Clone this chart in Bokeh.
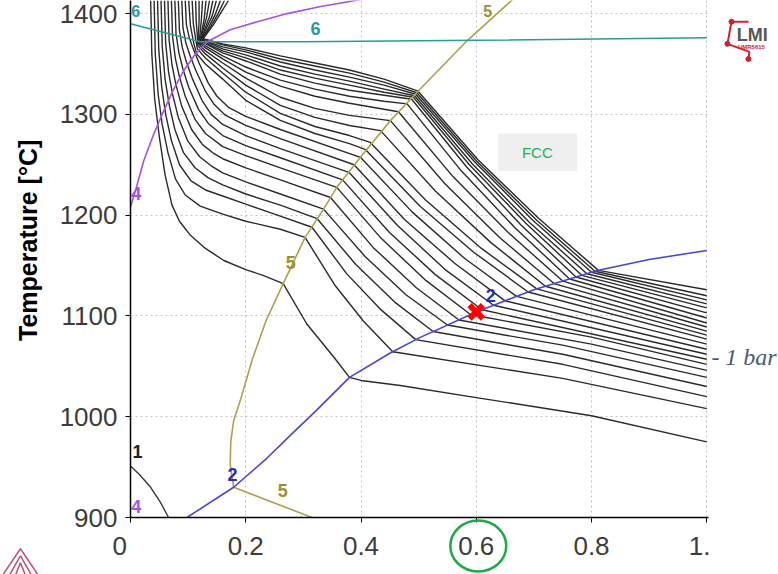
import math
from bokeh.plotting import figure
from bokeh.models import FixedTicker, GridBox, Column
from bokeh.embed import file_html
from bokeh.resources import INLINE
from bokeh.core.properties import value

# ---------------- data (x = fraction, T = temperature in degC) ----------------
x_ticks = [0, 0.2, 0.4, 0.6, 0.8, 1.0]
x_tick_labels = ["0\u00a0\u00a0\u00a0", "0.2", "0.4", "0.6", "0.8", "1.\u00a0\u00a0"]
y_ticks = [900, 1000, 1100, 1200, 1300, 1400]
y_title = "Temperature [°C]"

c00_x = [0.035, 0.037, 0.042, 0.05, 0.06, 0.072, 0.085, 0.104, 0.13, 0.162, 0.2, 0.231, 0.265, 0.306, 0.353, 0.38, 0.4, 0.468, 0.6, 0.8, 1.0]
c00_t = [1413, 1360, 1315, 1278, 1240, 1210, 1194, 1180, 1167, 1155, 1146, 1140, 1132, 1092, 1059, 1039, 1036, 1031, 1019, 1001, 975]
c01_x = [0.041, 0.043, 0.048, 0.055, 0.065, 0.078, 0.095, 0.121, 0.16, 0.2, 0.26, 0.303, 0.354, 0.404, 0.455, 0.75, 1.0]
c01_t = [1413, 1360, 1320, 1290, 1262, 1236, 1220, 1209, 1201, 1194, 1186, 1178, 1131, 1095, 1064.5, 1038, 1008]
c02_x = [0.047, 0.049, 0.054, 0.061, 0.071, 0.085, 0.105, 0.13, 0.16, 0.2, 0.26, 0.315, 0.375, 0.435, 0.495, 0.75, 1.0]
c02_t = [1413, 1365, 1328, 1300, 1274, 1250, 1234, 1225, 1219, 1211, 1199, 1188, 1142, 1106, 1076.5, 1052, 1020]
c03_x = [0.053, 0.055, 0.06, 0.067, 0.077, 0.092, 0.112, 0.135, 0.16, 0.2, 0.26, 0.324, 0.391, 0.458, 0.525, 0.75, 1.0]
c03_t = [1413, 1368, 1335, 1310, 1285, 1262, 1247, 1237, 1230, 1221, 1210, 1196.5, 1151, 1114, 1084.5, 1062, 1030]
c04_x = [0.059, 0.061, 0.066, 0.073, 0.083, 0.099, 0.12, 0.14, 0.16, 0.2, 0.26, 0.335, 0.407, 0.478, 0.55, 0.75, 1.0]
c04_t = [1413, 1371, 1342, 1320, 1297, 1274, 1258, 1249, 1242, 1233, 1221, 1206, 1159, 1121, 1091, 1071, 1039]
c05_x = [0.065, 0.067, 0.072, 0.079, 0.089, 0.106, 0.125, 0.145, 0.16, 0.2, 0.26, 0.347, 0.421, 0.496, 0.57, 0.8, 1.0]
c05_t = [1413, 1374, 1349, 1329, 1308, 1285, 1270, 1261, 1256, 1247, 1235, 1217.5, 1168, 1128, 1096, 1072, 1046]
c06_x = [0.071, 0.073, 0.078, 0.085, 0.095, 0.112, 0.13, 0.16, 0.2, 0.26, 0.358, 0.435, 0.513, 0.59, 0.8, 1.0]
c06_t = [1413, 1377, 1355, 1337, 1318, 1295, 1281, 1268, 1259, 1247, 1227.6, 1177, 1135, 1101.4, 1079, 1052]
c07_x = [0.077, 0.079, 0.084, 0.091, 0.101, 0.118, 0.135, 0.16, 0.2, 0.26, 0.368, 0.449, 0.529, 0.61, 1.0]
c07_t = [1413, 1380, 1361, 1345, 1327, 1305, 1291, 1279, 1269, 1257, 1235, 1183, 1141, 1106.2, 1057]
c08_x = [0.083, 0.085, 0.09, 0.097, 0.107, 0.124, 0.14, 0.16, 0.2, 0.26, 0.379, 0.463, 0.546, 0.63, 1.0]
c08_t = [1413, 1383, 1366, 1352, 1336, 1314, 1300, 1290, 1279, 1266, 1242.5, 1190, 1146, 1110.6, 1062]
c09_x = [0.089, 0.091, 0.096, 0.103, 0.113, 0.13, 0.145, 0.165, 0.2, 0.26, 0.388, 0.475, 0.563, 0.65, 1.0]
c09_t = [1413, 1386, 1371, 1359, 1344, 1323, 1310, 1299, 1289, 1276, 1250, 1196, 1152, 1115, 1067]
c10_x = [0.095, 0.097, 0.102, 0.109, 0.119, 0.135, 0.15, 0.17, 0.2, 0.26, 0.399, 0.489, 0.58, 0.67, 1.0]
c10_t = [1413, 1389, 1376, 1365, 1351, 1331, 1318, 1307, 1298, 1285, 1257.4, 1203, 1157, 1119.4, 1072]
c11_x = [0.101, 0.104, 0.11, 0.115, 0.13, 0.16, 0.2, 0.26, 0.32, 0.38, 0.408, 0.502, 0.596, 0.69, 1.0]
c11_t = [1413, 1388, 1370, 1360, 1350, 1335, 1314, 1294, 1281, 1271, 1265, 1209, 1163, 1123.8, 1077]
c12_x = [0.107, 0.109, 0.113, 0.116, 0.13, 0.16, 0.2, 0.26, 0.32, 0.38, 0.416, 0.512, 0.609, 0.705, 1.0]
c12_t = [1413, 1390, 1375, 1365, 1356, 1341, 1322, 1301, 1288, 1279, 1272.2, 1215, 1167, 1126.9, 1081]
c13_x = [0.113, 0.114, 0.116, 0.117, 0.13, 0.16, 0.2, 0.26, 0.32, 0.38, 0.434, 0.529, 0.625, 0.72, 1.0]
c13_t = [1413, 1392, 1378, 1368, 1360, 1346, 1329, 1309, 1297, 1289, 1283.9, 1224, 1173, 1129.5, 1085]
c14_x = [0.119, 0.119, 0.118, 0.118, 0.13, 0.16, 0.2, 0.26, 0.32, 0.38, 0.451, 0.546, 0.64, 0.735, 1.0]
c14_t = [1413, 1393, 1380, 1370, 1363, 1351, 1336, 1317, 1306, 1299, 1293.8, 1231, 1178, 1132.1, 1089]
c15_x = [0.125, 0.123, 0.121, 0.119, 0.13, 0.16, 0.2, 0.26, 0.32, 0.38, 0.465, 0.56, 0.655, 0.75, 1.0]
c15_t = [1413, 1394, 1382, 1371, 1366, 1355, 1342, 1328, 1318, 1311, 1302.6, 1238, 1183, 1134.6, 1093]
c16_x = [0.131, 0.128, 0.124, 0.12, 0.13, 0.16, 0.2, 0.26, 0.32, 0.38, 0.44, 0.48, 0.574, 0.668, 0.762, 1.0]
c16_t = [1413, 1395, 1383, 1372, 1368, 1358, 1347, 1334, 1325, 1318, 1313, 1310.4, 1244, 1187, 1136.7, 1098]
c17_x = [0.137, 0.132, 0.126, 0.121, 0.16, 0.2, 0.26, 0.32, 0.38, 0.44, 0.488, 0.583, 0.678, 0.773, 1.0]
c17_t = [1413, 1396, 1384, 1373, 1361, 1353, 1340, 1331, 1324, 1319, 1315, 1248, 1190, 1138.6, 1103]
c18_x = [0.143, 0.137, 0.129, 0.122, 0.16, 0.2, 0.26, 0.32, 0.38, 0.44, 0.491, 0.588, 0.686, 0.783, 1.0]
c18_t = [1413, 1397, 1385, 1373, 1363, 1356, 1344, 1336, 1329, 1322, 1317, 1250, 1192, 1140.3, 1108]
c19_x = [0.149, 0.142, 0.132, 0.123, 0.16, 0.2, 0.26, 0.32, 0.38, 0.44, 0.493, 0.593, 0.692, 0.792, 1.0]
c19_t = [1413, 1398, 1386, 1374, 1365, 1359, 1348, 1340, 1333, 1325, 1318.5, 1251, 1193, 1141.9, 1112]
c20_x = [0.156, 0.147, 0.136, 0.124, 0.16, 0.2, 0.26, 0.32, 0.38, 0.44, 0.495, 0.597, 0.698, 0.8, 1.0]
c20_t = [1413, 1399, 1387, 1374, 1367, 1362, 1352, 1344, 1337, 1329, 1320, 1253, 1195, 1143.3, 1116]
c21_x = [0.163, 0.152, 0.14, 0.125, 0.16, 0.2, 0.26, 0.32, 0.38, 0.44, 0.497, 0.6, 0.703, 0.806, 1.0]
c21_t = [1413, 1400, 1388, 1375, 1369, 1364, 1355, 1348, 1341, 1332, 1321.5, 1254, 1196, 1144.3, 1120]
c22_x = [0.17, 0.157, 0.144, 0.126, 0.16, 0.2, 0.26, 0.32, 0.38, 0.44, 0.499, 0.603, 0.708, 0.812, 1.0]
c22_t = [1413, 1401, 1389, 1375, 1370, 1366, 1358, 1351, 1344, 1335, 1323, 1255, 1197, 1145.2, 1126]

line1_x = [0.0, 0.015, 0.035, 0.052, 0.066, 0.075]
line1_t = [951, 943, 930, 915, 900, 890]

line2_x = [0.06, 0.098, 0.179, 0.237, 0.28, 0.324, 0.38, 0.45, 0.5, 0.6, 0.7, 0.81, 0.9, 1.0]
line2_t = [886, 900, 930, 959, 983, 1007, 1039, 1063, 1078, 1104, 1126, 1145, 1156, 1165]

line4_x = [0.0, 0.009, 0.023, 0.04, 0.058, 0.075, 0.092, 0.11, 0.133, 0.173, 0.22, 0.272, 0.33, 0.4]
line4_t = [1208, 1225, 1254, 1280, 1304, 1325, 1343, 1358, 1372, 1384, 1392, 1400, 1407, 1414]

line5_x = [0.179, 0.173, 0.174, 0.179, 0.191, 0.212, 0.235, 0.265, 0.303, 0.335, 0.358, 0.399, 0.451, 0.499, 0.584, 0.636, 0.665]
line5_t = [930, 953, 975, 996, 1017, 1058, 1095, 1132, 1178, 1206, 1227.6, 1257.4, 1293.8, 1323, 1373, 1400, 1415]
line5b_x = [0.179, 0.315, 0.33]
line5b_t = [930, 900, 897]

line6_x = [0.0, 0.06, 0.121, 0.3, 0.6, 1.0]
line6_t = [1390, 1381, 1372, 1372, 1373.5, 1376]

marker_x = [0.6]
marker_t = [1104]

# frame geometry of the main chart
X0, X1, T0, T1 = 0.0, 1.003, 900, 1413
W, H, BL, BR, BB = 778, 574, 130, 70, 57

# ---------------- main figure ----------------
p = figure(width=W, height=H, x_range=(X0, X1), y_range=(T0, T1),
           output_backend="svg", toolbar_location=None,
           min_border_left=BL, min_border_right=BR, min_border_top=0, min_border_bottom=BB)
p.outline_line_color = None
p.background_fill_color = "white"
p.border_fill_color = "white"

for ax in (p.xaxis[0], p.yaxis[0]):
    ax.axis_line_color = "black"
    ax.axis_line_width = 1.5
    ax.major_tick_line_color = "black"
    ax.major_tick_out = 5
    ax.major_tick_in = 0
    ax.minor_tick_line_color = None
    ax.major_label_text_font = "Liberation Sans"
    ax.major_label_text_font_size = "26px"
    ax.major_label_text_color = "#3c3c3c"
    ax.major_label_standoff = 8

p.xaxis.ticker = FixedTicker(ticks=x_ticks)
p.yaxis.ticker = FixedTicker(ticks=y_ticks)
p.xaxis.major_label_overrides = {t: l for t, l in zip(x_ticks, x_tick_labels)}

p.xgrid.ticker = FixedTicker(ticks=x_ticks)
p.ygrid.ticker = FixedTicker(ticks=y_ticks)
for g in (p.xgrid[0], p.ygrid[0]):
    g.grid_line_color = "#c2c2c2"
    g.grid_line_dash = "2 3"
    g.grid_line_width = 1

# FCC box
p.quad(left=[0.638], right=[0.775], bottom=[1244], top=[1281], fill_color="#efefef", line_color=None)
p.text(x=[0.706], y=[1262.5], text=["FCC"], text_color="#22b14c", text_font=value("Liberation Sans"),
       text_font_size="15px", text_align="center", text_baseline="middle")

black_xs = [c00_x, c01_x, c02_x, c03_x, c04_x, c05_x, c06_x, c07_x, c08_x, c09_x, c10_x, c11_x,
            c12_x, c13_x, c14_x, c15_x, c16_x, c17_x, c18_x, c19_x, c20_x, c21_x, c22_x]
black_ys = [c00_t, c01_t, c02_t, c03_t, c04_t, c05_t, c06_t, c07_t, c08_t, c09_t, c10_t, c11_t,
            c12_t, c13_t, c14_t, c15_t, c16_t, c17_t, c18_t, c19_t, c20_t, c21_t, c22_t]
p.multi_line(xs=black_xs, ys=black_ys, line_color="#2a2a2a", line_width=1.4, line_join="round")
p.line(line1_x, line1_t, line_color="#3a3a3a", line_width=1.4)

olive = "#aaa24a"
p.line(line5_x, line5_t, line_color=olive, line_width=1.6)
p.line(line5b_x, line5b_t, line_color=olive, line_width=1.6)
p.line(line2_x, line2_t, line_color="#4646d8", line_width=1.6)
p.line(line4_x, line4_t, line_color="#a552e6", line_width=1.6)
p.line(line6_x, line6_t, line_color="#2a9a9a", line_width=1.6)

def lab(x, y, t, c, size="18px"):
    p.text(x=[x], y=[y], text=[t], text_color=c, text_font=value("Liberation Sans"),
           text_font_style="bold", text_font_size=size, text_align="center", text_baseline="middle")

lab(0.321, 1385, "6", "#2a9a9a")
lab(0.009, 1403, "6", "#2a9a9a", "16px")
lab(0.010, 1221, "4", "#a552e6")
lab(0.010, 911, "4", "#a552e6")
lab(0.012, 965, "1", "#222222")
lab(0.177, 943, "2", "#2a2ac0")
lab(0.625, 1120, "2", "#2a2ac0")
lab(0.278, 1153, "5", "#9c902e")
lab(0.264, 927, "5", "#9c902e")
lab(0.62, 1403, "5", "#9c902e", "16px")

p.scatter(marker_x, marker_t, marker="x", size=19, line_width=6, line_color="#ff0000")

# ---------------- transparent overlay covering the whole page (same data units) ----------------
pxu = (W - BL - BR) / (X1 - X0)          # pixels per x unit
pyu = (H - BB) / (T1 - T0)               # pixels per degree
ov = figure(width=W, height=H, x_range=(X0 - BL / pxu, X1 + BR / pxu), y_range=(T0 - BB / pyu, T1),
            output_backend="svg", toolbar_location=None, x_axis_type=None, y_axis_type=None,
            min_border=0, min_border_left=0, min_border_right=0, min_border_top=0, min_border_bottom=0)
ov.grid.visible = False
ov.outline_line_color = None
ov.background_fill_color = None
ov.border_fill_color = None

# y axis title
ov.text(x=[-0.1787], y=[1175], text=[y_title], angle=math.pi / 2, text_color="black",
        text_font=value("Liberation Sans"), text_font_style="bold", text_font_size="25px",
        text_align="center", text_baseline="middle")
# green circle around the 0.6 tick label
ov.ellipse(x=[0.6035], y=[871.7], width=[0.097], height=[50.5], fill_color=None,
           line_color="#1fa84a", line_width=2.5)
# "1 bar" note on the right
ov.text(x=[1.008], y=[1059], text=["- 1 bar"], text_color="#4b5a7a", text_font=value("Liberation Serif"),
        text_font_style="italic", text_font_size="24px", text_align="left", text_baseline="middle")
# LMI logo (top right)
ov.line(x=[1.0724, 1.0429, 1.0359, 1.074, 1.0724], y=[1392, 1392, 1370, 1362, 1355],
        line_color="#d3202f", line_width=2)
ov.scatter(x=[1.0429, 1.0359, 1.0724], y=[1392, 1370, 1355], size=5, color="#d3202f")
ov.text(x=[1.052], y=[1379], text=["LMI"], text_color="#555555", text_font=value("Liberation Sans"),
        text_font_style="bold", text_font_size="18px", text_align="left", text_baseline="middle")
ov.text(x=[1.054], y=[1367], text=["UMR5615"], text_color="#d3202f", text_font=value("Liberation Sans"),
        text_font_style="bold", text_font_size="6px", text_align="left", text_baseline="middle")
# red logo, bottom-left corner
ov.multi_line(xs=[[-0.224, -0.191, -0.158], [-0.212, -0.191, -0.170], [-0.201, -0.191, -0.181]],
              ys=[[841, 869, 841], [841, 862, 841], [841, 855, 841]],
              line_color="#c0506e", line_width=1.5)

layout = GridBox(children=[(p, 0, 0), (Column(children=[ov]), 0, 0)])
open("out.html", "w").write(file_html(layout, INLINE))
